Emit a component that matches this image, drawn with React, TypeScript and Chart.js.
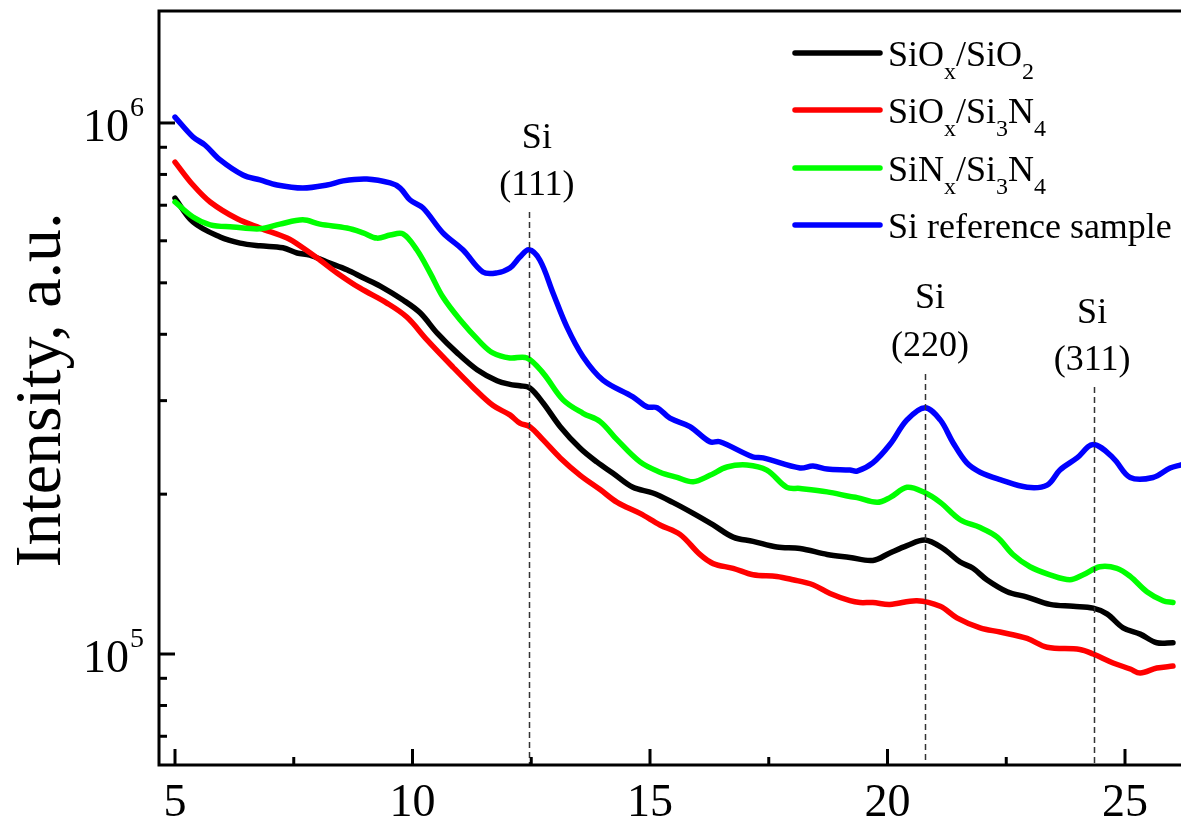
import React, { useEffect, useRef } from "react";
import { Chart, registerables } from "chart.js";

Chart.register(...registerables);

// ---------- data ----------
const seriesNames = ["SiO_x/SiO_2", "SiO_x/Si_3N_4", "SiN_x/Si_3N_4", "Si reference sample"];
const seriesColors = ["#000000", "#ff0000", "#00ff00", "#0000ff"];

const blackX = [5.0, 5.38, 5.95, 6.37, 6.79, 7.27, 7.57, 7.84, 8.2, 8.62, 8.96, 9.32, 9.8, 10.16, 10.52, 10.94, 11.36, 11.78, 12.05, 12.26, 12.47, 12.75, 13.11, 13.53, 13.88, 14.22, 14.64, 15.06, 15.48, 15.91, 16.33, 16.75, 17.17, 17.67, 18.16, 18.73, 19.21, 19.69, 20.05, 20.41, 20.79, 21.17, 21.53, 21.8, 22.09, 22.52, 22.94, 23.42, 23.91, 24.33, 24.62, 24.96, 25.32, 25.67, 26.01];
const blackY = [7.22e5, 6.51e5, 6.10e5, 5.94e5, 5.87e5, 5.82e5, 5.69e5, 5.64e5, 5.47e5, 5.29e5, 5.11e5, 4.93e5, 4.64e5, 4.39e5, 4.02e5, 3.69e5, 3.43e5, 3.27e5, 3.22e5, 3.20e5, 3.17e5, 2.97e5, 2.68e5, 2.44e5, 2.30e5, 2.19e5, 2.06e5, 2.01e5, 1.93e5, 1.84e5, 1.75e5, 1.66e5, 1.63e5, 1.59e5, 1.58e5, 1.54e5, 1.52e5, 1.50e5, 1.55e5, 1.60e5, 1.64e5, 1.58e5, 1.49e5, 1.45e5, 1.38e5, 1.31e5, 1.28e5, 1.24e5, 1.23e5, 1.22e5, 1.19e5, 1.12e5, 1.09e5, 1.05e5, 1.05e5];

const redX = [5.0, 5.38, 5.74, 6.31, 6.79, 7.36, 7.69, 8.05, 8.41, 8.89, 9.46, 9.88, 10.31, 10.85, 11.27, 11.69, 12.05, 12.26, 12.47, 12.75, 13.11, 13.53, 13.95, 14.31, 14.79, 15.21, 15.63, 16.05, 16.33, 16.75, 17.17, 17.67, 18.01, 18.43, 18.79, 19.21, 19.42, 19.69, 20.05, 20.62, 21.11, 21.46, 21.95, 22.37, 22.94, 23.36, 24.05, 24.33, 24.75, 25.11, 25.32, 25.67, 26.01];
const redY = [8.44e5, 7.64e5, 7.10e5, 6.60e5, 6.34e5, 6.07e5, 5.82e5, 5.52e5, 5.22e5, 4.89e5, 4.58e5, 4.31e5, 3.90e5, 3.47e5, 3.18e5, 2.94e5, 2.82e5, 2.72e5, 2.68e5, 2.53e5, 2.34e5, 2.17e5, 2.04e5, 1.93e5, 1.84e5, 1.75e5, 1.68e5, 1.54e5, 1.48e5, 1.45e5, 1.41e5, 1.40e5, 1.38e5, 1.35e5, 1.30e5, 1.26e5, 1.25e5, 1.25e5, 1.24e5, 1.26e5, 1.23e5, 1.17e5, 1.12e5, 1.10e5, 1.07e5, 1.03e5, 1.02e5, 1.00e5, 9.62e4, 9.37e4, 9.21e4, 9.41e4, 9.49e4];

const greenX = [5.0, 5.38, 5.74, 6.22, 6.79, 7.21, 7.69, 8.05, 8.62, 8.96, 9.25, 9.53, 9.8, 10.09, 10.37, 10.64, 11.0, 11.42, 11.69, 12.05, 12.41, 12.75, 13.17, 13.59, 13.95, 14.31, 14.79, 15.21, 15.57, 15.91, 16.26, 16.62, 17.04, 17.46, 17.88, 18.16, 18.73, 19.21, 19.36, 19.78, 20.05, 20.41, 20.75, 21.11, 21.53, 21.95, 22.31, 22.64, 23.0, 23.42, 23.84, 24.12, 24.47, 24.83, 25.11, 25.46, 25.8, 26.01];
const greenY = [7.10e5, 6.65e5, 6.43e5, 6.37e5, 6.32e5, 6.45e5, 6.57e5, 6.45e5, 6.34e5, 6.21e5, 6.07e5, 6.15e5, 6.18e5, 5.77e5, 5.22e5, 4.70e5, 4.26e5, 3.87e5, 3.69e5, 3.61e5, 3.61e5, 3.38e5, 3.01e5, 2.84e5, 2.74e5, 2.53e5, 2.30e5, 2.20e5, 2.15e5, 2.11e5, 2.17e5, 2.25e5, 2.27e5, 2.22e5, 2.06e5, 2.05e5, 2.02e5, 1.98e5, 1.97e5, 1.93e5, 1.97e5, 2.06e5, 2.02e5, 1.93e5, 1.79e5, 1.73e5, 1.66e5, 1.54e5, 1.46e5, 1.41e5, 1.38e5, 1.41e5, 1.46e5, 1.45e5, 1.40e5, 1.31e5, 1.26e5, 1.25e5];

const blueX = [5.0, 5.38, 5.63, 5.95, 6.43, 6.79, 7.15, 7.69, 8.2, 8.54, 9.04, 9.53, 9.74, 9.95, 10.22, 10.64, 11.06, 11.48, 11.78, 12.05, 12.26, 12.45, 12.68, 12.96, 13.25, 13.59, 14.01, 14.64, 14.94, 15.15, 15.42, 15.84, 16.26, 16.47, 17.17, 17.38, 18.16, 18.43, 18.73, 19.21, 19.36, 19.69, 20.05, 20.41, 20.79, 21.11, 21.38, 21.67, 21.95, 22.37, 22.94, 23.36, 23.63, 23.99, 24.33, 24.75, 25.11, 25.59, 25.95, 26.18, 26.4];
const blueY = [1.026e6, 9.41e5, 9.09e5, 8.52e5, 7.98e5, 7.81e5, 7.64e5, 7.54e5, 7.64e5, 7.78e5, 7.84e5, 7.71e5, 7.54e5, 7.16e5, 6.92e5, 6.21e5, 5.77e5, 5.24e5, 5.22e5, 5.33e5, 5.59e5, 5.77e5, 5.52e5, 4.78e5, 4.13e5, 3.63e5, 3.28e5, 3.05e5, 2.92e5, 2.91e5, 2.78e5, 2.68e5, 2.51e5, 2.51e5, 2.35e5, 2.34e5, 2.24e5, 2.26e5, 2.23e5, 2.22e5, 2.21e5, 2.29e5, 2.48e5, 2.76e5, 2.91e5, 2.76e5, 2.50e5, 2.29e5, 2.20e5, 2.13e5, 2.06e5, 2.08e5, 2.22e5, 2.34e5, 2.48e5, 2.34e5, 2.15e5, 2.15e5, 2.24e5, 2.27e5, 2.30e5];

const peakX = [12.45, 20.79, 24.35];
const peakLabels = ["(111)", "(220)", "(311)"];

const xMajorTicks = [5, 10, 15, 20, 25];
const xMinorTicks = [7.5, 12.5, 17.5, 22.5];
const yLabelExponents = [5, 6];
const yMinorMantissas = [2, 3, 4, 5, 6, 7, 8, 9];

const X_MIN = 4.642;
const X_MAX = 27.0;
const Y_MIN = 6.18e4;
const Y_MAX = 1.625e6;

// ---------- layout (pixels) ----------
const CANVAS_W = 1220;
const CANVAS_H = 823;
const FONT = "'Liberation Serif', 'Times New Roman', serif";
const peakLabelLayout = [
  { dx: 8, siBase: 148, hklBase: 195, dashTop: 212 },
  { dx: 5, siBase: 308, hklBase: 356, dashTop: 374 },
  { dx: -2, siBase: 323, hklBase: 370, dashTop: 387 },
];
const legendLayout = { x0: 795, x1: 880, textX: 888, rows: [53, 110, 168, 225] };

function drawRich(ctx: CanvasRenderingContext2D, s: string, x: number, baseline: number, size: number, subSize: number, subDrop: number) {
  const parts = s.split(/_(\w)/);
  let cx = x;
  parts.forEach((p, i) => {
    if (!p) return;
    const sub = i % 2 === 1;
    ctx.font = `${sub ? subSize : size}px ${FONT}`;
    ctx.fillText(p, cx, baseline + (sub ? subDrop : 0));
    cx += ctx.measureText(p).width;
  });
}

const decor = {
  id: "decor",
  afterDatasetsDraw(chart: any) {
    const { ctx, chartArea: a, scales } = chart;
    const xs = scales.x;
    ctx.save();
    ctx.strokeStyle = "#333";
    ctx.lineWidth = 1.5;
    ctx.setLineDash([6, 4]);
    peakX.forEach((p, i) => {
      const px = Math.round(xs.getPixelForValue(p)) + 0.5;
      ctx.beginPath();
      ctx.moveTo(px, peakLabelLayout[i].dashTop);
      ctx.lineTo(px, a.bottom);
      ctx.stroke();
    });
    ctx.restore();
  },
  afterDraw(chart: any) {
    const { ctx, chartArea: a, scales } = chart;
    const xs = scales.x;
    const ys = scales.y;
    ctx.save();
    ctx.fillStyle = "#000";
    ctx.strokeStyle = "#000";
    ctx.setLineDash([]);
    // frame
    ctx.lineWidth = 3;
    ctx.lineCap = "square";
    ctx.beginPath();
    ctx.moveTo(a.left + 1, a.top);
    ctx.lineTo(a.right, a.top);
    ctx.moveTo(a.left + 1, a.top);
    ctx.lineTo(a.left + 1, a.bottom);
    ctx.lineTo(a.right, a.bottom);
    ctx.lineTo(a.right, a.top);
    ctx.stroke();
    ctx.lineCap = "butt";
    // x ticks
    xMajorTicks.forEach((v) => {
      const px = xs.getPixelForValue(v);
      ctx.beginPath();
      ctx.moveTo(px, a.bottom);
      ctx.lineTo(px, a.bottom - 16);
      ctx.stroke();
    });
    xMinorTicks.forEach((v) => {
      const px = xs.getPixelForValue(v);
      ctx.beginPath();
      ctx.moveTo(px, a.bottom);
      ctx.lineTo(px, a.bottom - 8);
      ctx.stroke();
    });
    // y ticks
    const decades = [4, 5, 6];
    decades.forEach((e) => {
      const major = Math.pow(10, e);
      if (major >= Y_MIN && major <= Y_MAX) {
        const py = ys.getPixelForValue(major);
        ctx.beginPath();
        ctx.moveTo(a.left, py);
        ctx.lineTo(a.left + 17, py);
        ctx.stroke();
      }
      yMinorMantissas.forEach((m) => {
        const v = m * major;
        if (v < Y_MIN || v > Y_MAX) return;
        const py = ys.getPixelForValue(v);
        ctx.beginPath();
        ctx.moveTo(a.left, py);
        ctx.lineTo(a.left + 9, py);
        ctx.stroke();
      });
    });
    // x tick labels
    ctx.font = `46px ${FONT}`;
    ctx.textAlign = "center";
    ctx.textBaseline = "alphabetic";
    xMajorTicks.forEach((v) => {
      ctx.fillText(String(v), xs.getPixelForValue(v), a.bottom + 51);
    });
    // y tick labels 10^n
    ctx.textAlign = "left";
    yLabelExponents.forEach((e) => {
      const py = ys.getPixelForValue(Math.pow(10, e));
      ctx.font = `28px ${FONT}`;
      const w2 = ctx.measureText(String(e)).width;
      ctx.font = `46px ${FONT}`;
      const w1 = ctx.measureText("10").width;
      const x0 = 143 - w2 - w1;
      ctx.fillText("10", x0, py + 18);
      ctx.font = `28px ${FONT}`;
      ctx.fillText(String(e), x0 + w1 + 1, py - 7);
    });
    // y title
    ctx.save();
    ctx.translate(60, 390);
    ctx.rotate(-Math.PI / 2);
    ctx.textAlign = "center";
    ctx.font = `66px ${FONT}`;
    ctx.fillText("Intensity, a.u.", 0, 0);
    ctx.restore();
    // peak labels
    ctx.textAlign = "center";
    ctx.font = `36px ${FONT}`;
    peakX.forEach((p, i) => {
      const L = peakLabelLayout[i];
      const px = xs.getPixelForValue(p) + L.dx;
      ctx.fillText("Si", px, L.siBase);
      ctx.fillText(peakLabels[i], px, L.hklBase);
    });
    // legend
    ctx.textAlign = "left";
    seriesNames.forEach((name, i) => {
      const ly = legendLayout.rows[i];
      ctx.strokeStyle = seriesColors[i];
      ctx.lineWidth = 5.5;
      ctx.lineCap = "round";
      ctx.beginPath();
      ctx.moveTo(legendLayout.x0, ly);
      ctx.lineTo(legendLayout.x1, ly);
      ctx.stroke();
      ctx.fillStyle = "#000";
      drawRich(ctx, name, legendLayout.textX, ly + 12.5, 36, 24, 13);
    });
    ctx.restore();
  },
};

function makeData(xs: number[], ys: number[]) {
  return xs.map((x, i) => ({ x, y: ys[i] }));
}

export default function App() {
  const ref = useRef<HTMLCanvasElement>(null);
  useEffect(() => {
    const canvas = ref.current;
    if (!canvas) return;
    const seriesX = [blackX, redX, greenX, blueX];
    const seriesY = [blackY, redY, greenY, blueY];
    const chart = new Chart(canvas, {
      type: "line",
      data: {
        datasets: seriesNames.map((name, i) => ({
          label: name,
          data: makeData(seriesX[i], seriesY[i]),
          borderColor: seriesColors[i],
          backgroundColor: seriesColors[i],
          borderWidth: 5.5,
          pointRadius: 0,
          tension: 0.35,
          borderCapStyle: "round",
          borderJoinStyle: "round",
          fill: false,
          order: 4 - i,
        })),
      },
      options: {
        animation: false,
        responsive: false,
        maintainAspectRatio: false,
        events: [],
        layout: { padding: { top: 11, left: 0, right: 0, bottom: 0 } },
        plugins: { legend: { display: false }, tooltip: { enabled: false }, title: { display: false } },
        scales: {
          x: {
            type: "linear",
            min: X_MIN,
            max: X_MAX,
            afterFit: (s: any) => {
              s.height = CANVAS_H - 765;
            },
            ticks: { display: false },
            grid: { display: false },
            border: { display: false },
          },
          y: {
            type: "logarithmic",
            min: Y_MIN,
            max: Y_MAX,
            afterFit: (s: any) => {
              s.width = 158;
            },
            ticks: { display: false },
            grid: { display: false },
            border: { display: false },
          },
        },
      } as any,
      plugins: [decor],
    });
    return () => chart.destroy();
  }, []);
  return (
    <div style={{ position: "fixed", left: 0, top: 0, width: 1181, height: 823, overflow: "hidden", background: "#fff" }}>
      <canvas ref={ref} width={CANVAS_W} height={CANVAS_H} style={{ display: "block", width: CANVAS_W, height: CANVAS_H }} />
    </div>
  );
}
